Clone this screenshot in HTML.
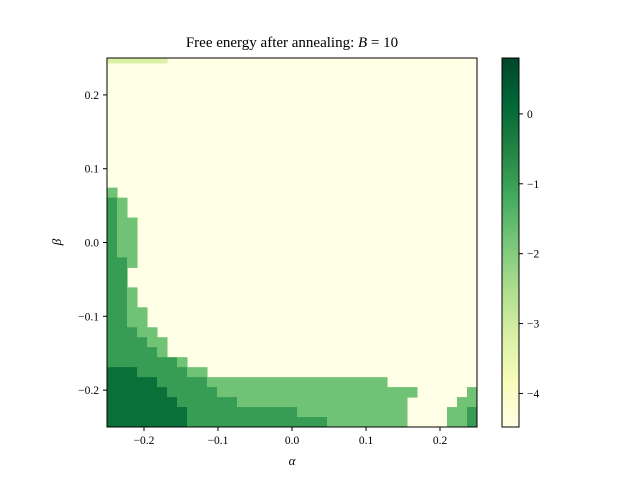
<!DOCTYPE html>
<html><head><meta charset="utf-8"><style>
body{margin:0;background:#fff;}
svg text{font-family:"Liberation Serif",serif;fill:#000;}
</style></head><body>
<svg id="chart" width="640" height="480" viewBox="0 0 640 480" xmlns="http://www.w3.org/2000/svg">
<rect width="640" height="480" fill="#fff"/>
<defs><linearGradient id="cbg" x1="0" y1="1" x2="0" y2="0">
<stop offset="0" stop-color="#ffffe5"/><stop offset="0.125" stop-color="#f7fcb9"/><stop offset="0.25" stop-color="#d9f0a3"/><stop offset="0.375" stop-color="#addd8e"/><stop offset="0.5" stop-color="#78c679"/><stop offset="0.625" stop-color="#41ab5d"/><stop offset="0.75" stop-color="#238443"/><stop offset="0.875" stop-color="#006837"/><stop offset="1" stop-color="#004529"/>
</linearGradient></defs>
<g id="plot"></g>
</svg>
<script>
// levels: 0 light, 1 mid green, 2 darker, 3 darkest, 4 pale green
const levelValues = [-4.5, -1.75, -0.95, -0.05, -3.2];
const gridRows = [
"4444440000000000000000000000000000000",
"0000000000000000000000000000000000000",
"0000000000000000000000000000000000000",
"0000000000000000000000000000000000000",
"0000000000000000000000000000000000000",
"0000000000000000000000000000000000000",
"0000000000000000000000000000000000000",
"0000000000000000000000000000000000000",
"0000000000000000000000000000000000000",
"0000000000000000000000000000000000000",
"0000000000000000000000000000000000000",
"0000000000000000000000000000000000000",
"0000000000000000000000000000000000000",
"1000000000000000000000000000000000000",
"2100000000000000000000000000000000000",
"2100000000000000000000000000000000000",
"2110000000000000000000000000000000000",
"2110000000000000000000000000000000000",
"2110000000000000000000000000000000000",
"2110000000000000000000000000000000000",
"2210000000000000000000000000000000000",
"2200000000000000000000000000000000000",
"2200000000000000000000000000000000000",
"2210000000000000000000000000000000000",
"2210000000000000000000000000000000000",
"2211000000000000000000000000000000000",
"2211000000000000000000000000000000000",
"2221100000000000000000000000000000000",
"2222110000000000000000000000000000000",
"2222210000000000000000000000000000000",
"2222222100000000000000000000000000000",
"3332222211000000000000000000000000000",
"3333322222111111111111111111000000000",
"3333332222211111111111111111111000001",
"3333333222222111111111111111110000011",
"3333333322222222222111111111110000112",
"3333333322222222222222111111110000112"
];
const xTicks = [-0.2, -0.1, 0.0, 0.1, 0.2];
const yTicks = [0.2, 0.1, 0.0, -0.1, -0.2];
const cbTicks = [0, -1, -2, -3, -4];
const xDomain = [-0.25, 0.25], yDomain = [-0.25, 0.25], cDomain = [-4.48, 0.8];

const P = {l:107, r:477, t:58, b:427};
const sx = v => P.l + (v - xDomain[0]) / (xDomain[1] - xDomain[0]) * (P.r - P.l);
const sy = v => P.b - (v - yDomain[0]) / (yDomain[1] - yDomain[0]) * (P.b - P.t);
const CB = {l:502, r:519, t:58, b:427};
const sc = v => CB.b - (v - cDomain[0]) / (cDomain[1] - cDomain[0]) * (CB.b - CB.t);
const stops = [[0,[255,255,229]],[0.125,[247,252,185]],[0.25,[217,240,163]],[0.375,[173,221,142]],[0.5,[120,198,121]],[0.625,[65,171,93]],[0.75,[35,132,67]],[0.875,[0,104,55]],[1,[0,69,41]]];
function color(v){
  let t = (v - cDomain[0]) / (cDomain[1] - cDomain[0]); t = Math.max(0, Math.min(1, t));
  for (let i = 1; i < stops.length; i++) {
    if (t <= stops[i][0]) {
      const a = stops[i-1], b = stops[i], f = (t - a[0]) / (b[0] - a[0]);
      const c = a[1].map((x, k) => Math.round(x + (b[1][k] - x) * f));
      return `rgb(${c[0]},${c[1]},${c[2]})`;
    }
  }
  return 'rgb(0,69,41)';
}
const NS = 'http://www.w3.org/2000/svg';
const g = document.getElementById('plot');
function mk(tag, attrs, parent){ const e = document.createElementNS(NS, tag); for (const k in attrs) e.setAttribute(k, attrs[k]); (parent||g).appendChild(e); return e; }

const bg = mk('rect', {x:P.l, y:P.t, width:P.r-P.l, height:P.b-P.t, fill:color(levelValues[0])});


const nR = gridRows.length, nC = 37;
const cw = (xDomain[1]-xDomain[0]) / nC, ch = (yDomain[1]-yDomain[0]) / nR;
const cells = mk('g', {});


gridRows.forEach((row, r) => {
  for (let c = 0; c < row.length; c++) {
    const lv = +row[c]; if (lv === 0) continue;
    const x0 = sx(xDomain[0] + c*cw), x1 = sx(xDomain[0] + (c+1)*cw);
    let y0 = sy(yDomain[1] - r*ch), y1 = sy(yDomain[1] - (r+1)*ch);
    if (lv === 4) y1 = y0 + (y1 - y0) * 0.5;
    const rc = mk('rect', {x:x0, y:y0, width:x1-x0+0.5, height:y1-y0+0.5, fill:color(levelValues[lv])}, cells);
    
    
  }
});
const frame = mk('rect', {x:P.l, y:P.t, width:P.r-P.l, height:P.b-P.t, fill:'none', stroke:'#000', 'stroke-width':1});



xTicks.forEach(v => {
  const x = sx(v);
  mk('line', {x1:x, x2:x, y1:P.b, y2:P.b+4, stroke:'#000'});
  const t = mk('text', {x:x, y:P.b+17, 'text-anchor':'middle', 'font-size':11.5});
  t.textContent = (v < 0 ? '\u2212' : '') + Math.abs(v).toFixed(1);
  
  
});
yTicks.forEach(v => {
  const y = sy(v);
  mk('line', {x1:P.l-4, x2:P.l, y1:y, y2:y, stroke:'#000'});
  const t = mk('text', {x:P.l-8, y:y+4, 'text-anchor':'end', 'font-size':11.5});
  t.textContent = (v < 0 ? '\u2212' : '') + Math.abs(v).toFixed(1);
  
  
});

const cb = mk('rect', {x:CB.l, y:CB.t, width:CB.r-CB.l, height:CB.b-CB.t, fill:'url(#cbg)', stroke:'#000', 'stroke-width':1});


cbTicks.forEach(v => {
  const y = sc(v);
  mk('line', {x1:CB.r, x2:CB.r+4, y1:y, y2:y, stroke:'#000'});
  const t = mk('text', {x:CB.r+8, y:y+4, 'font-size':11.5});
  t.textContent = (v < 0 ? '\u2212' : '') + Math.abs(v);
  
  
});

const title = mk('text', {x:292, y:47, 'text-anchor':'middle', 'font-size':15});
title.innerHTML = 'Free energy after annealing: <tspan font-style="italic">B</tspan> = 10';


const xl = mk('text', {x:292, y:465, 'text-anchor':'middle', 'font-size':13, 'font-style':'italic'});
xl.textContent = 'α';


const yl = mk('text', {x:61, y:242, 'text-anchor':'middle', 'font-size':13, 'font-style':'italic', transform:'rotate(-90 61 242)'});
yl.textContent = 'β';


</script>
</body></html>
